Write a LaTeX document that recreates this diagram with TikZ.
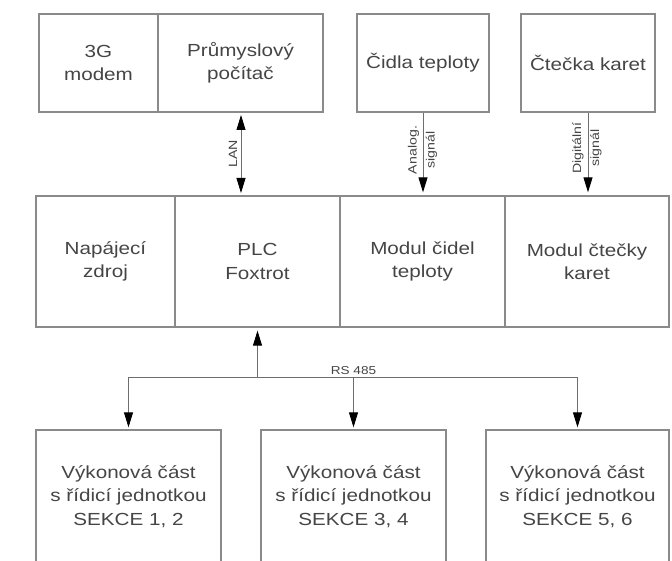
\documentclass[tikz,border=0pt]{standalone}
\usepackage{fontspec}
\setmainfont{Liberation Sans}[FakeStretch=1.18]
\usetikzlibrary{arrows.meta}
\definecolor{boxline}{HTML}{8A8A8A}
\definecolor{txt}{HTML}{454545}
\definecolor{conn}{HTML}{6E6E6E}
\begin{document}
\begin{tikzpicture}[x=1pt,y=-1pt,
  blk/.style={draw=boxline,line width=1.3pt,text=txt,align=center,inner sep=0pt,
    font=\fontsize{17.5}{23.5}\selectfont},
  conline/.style={draw=conn,line width=0.9pt},
  tip/.style={-{Triangle[length=15pt,width=9pt,fill=black,color=black]}},
  lbl/.style={text=txt,align=center,inner sep=0pt,font=\fontsize{12}{18}\selectfont}]
\useasboundingbox (0,0) rectangle (672,561);
% top row
\node[blk,minimum width=119pt,minimum height=98pt] (modem) at (98.5,63) {3G\\modem};
\node[blk,minimum width=165pt,minimum height=98pt] (pc) at (240.5,63) {Průmyslový\\počítač};
\node[blk,minimum width=132pt,minimum height=98pt] (cidla) at (423,63) {Čidla teploty};
\node[blk,minimum width=134pt,minimum height=98pt] (ctecka) at (588,63) {Čtečka karet};
% middle row
\node[blk,minimum width=139pt,minimum height=131pt] (zdroj) at (105.5,261.5) {Napájecí\\zdroj};
\node[blk,minimum width=165pt,minimum height=131pt] (plc) at (257.5,261.5) {PLC\\Foxtrot};
\node[blk,minimum width=165pt,minimum height=131pt] (modcidel) at (422.5,261.5) {Modul čidel\\teploty};
\node[blk,minimum width=164pt,minimum height=131pt] (modctecky) at (587,261.5) {Modul čtečky\\karet};
% bottom row
\node[blk,minimum width=185pt,minimum height=133pt] (s1) at (128.5,496.5) {Výkonová část\\s řídicí jednotkou\\SEKCE 1, 2};
\node[blk,minimum width=185pt,minimum height=133pt] (s2) at (353.5,496.5) {Výkonová část\\s řídicí jednotkou\\SEKCE 3, 4};
\node[blk,minimum width=183pt,minimum height=133pt] (s3) at (577.5,496.5) {Výkonová část\\s řídicí jednotkou\\SEKCE 5, 6};
% LAN
\coordinate (lanTop) at (241,112);
\coordinate (lanBot) at (241,196);
\draw[conline,{Triangle[length=15pt,width=9pt,fill=black,color=black]}-{Triangle[length=15pt,width=9pt,fill=black,color=black]},shorten <=3pt,shorten >=3pt] (lanTop) -- (lanBot);
\node[lbl,rotate=90] (lan) at (233,154) {LAN};
% analog
\draw[conline,tip,shorten >=3pt] (cidla.south) -- (cidla.south |- modcidel.north);
\node[lbl,rotate=90] (analog) at (422.5,150) {Analog.\\signál};
% digital
\draw[conline,tip,shorten >=3pt] (ctecka.south) -- (ctecka.south |- modctecky.north);
\node[lbl,rotate=90] (digital) at (587,148) {Digitální\\signál};
% RS 485 bus
\coordinate (bus) at (257.5,377);
\draw[conline,tip,shorten >=3pt] (bus) -- (plc.south);
\draw[conline] (s1.north |- bus) -- (s3.north |- bus);
\draw[conline,tip,shorten >=2pt] (s1.north |- bus) -- (s1.north);
\draw[conline,tip,shorten >=2pt] (s2.north |- bus) -- (s2.north);
\draw[conline,tip,shorten >=2pt] (s3.north |- bus) -- (s3.north);
\node[lbl,anchor=south,inner sep=2pt,font=\fontsize{11.5}{14}\selectfont] (rs) at (s2.north |- bus) {RS 485};
\end{tikzpicture}
\end{document}
